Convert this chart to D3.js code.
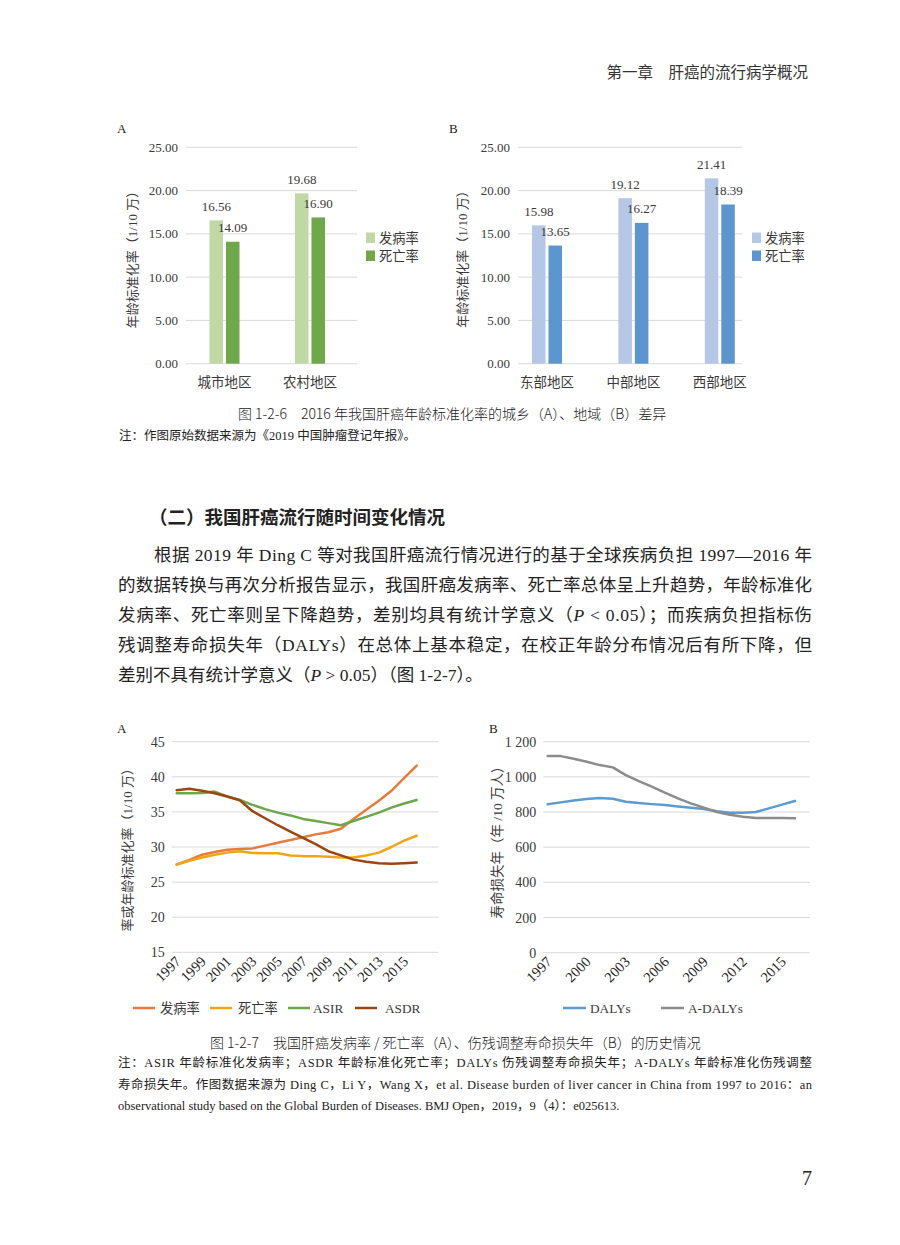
<!DOCTYPE html>
<html><head><meta charset="utf-8">
<script src="https://cdn.jsdelivr.net/npm/d3@7"></script>
<style>
html,body{margin:0;padding:0;background:#fff;}
svg{display:block;}
</style></head><body>
<svg id="page" width="900" height="1245"></svg>
<script>
// ---------- DATA ----------
const barSeries = ["发病率", "死亡率"];
const barCatsA = ["城市地区", "农村地区"];
const barIncidA = [16.56, 19.68];
const barMortA = [14.09, 16.90];
const barCatsB = ["东部地区", "中部地区", "西部地区"];
const barIncidB = [15.98, 19.12, 21.41];
const barMortB = [13.65, 16.27, 18.39];
const barYTicks = [0, 5, 10, 15, 20, 25];

const years = [1997,1998,1999,2000,2001,2002,2003,2004,2005,2006,2007,2008,2009,2010,2011,2012,2013,2014,2015,2016];
const incidence = [27.5,28.15,28.9,29.3,29.6,29.7,29.8,30.2,30.6,31.0,31.4,31.8,32.1,32.6,34.0,35.3,36.6,38.0,39.8,41.6];
const mortality = [27.5,28.05,28.5,28.9,29.2,29.4,29.15,29.1,29.1,28.8,28.7,28.7,28.6,28.5,28.5,28.8,29.2,30.0,30.9,31.6];
const asir = [37.65,37.65,37.7,37.9,37.2,36.7,36.0,35.4,34.9,34.5,34.0,33.7,33.4,33.1,33.7,34.3,34.9,35.6,36.2,36.7];
const asdr = [38.1,38.3,38.0,37.65,37.2,36.65,35.1,34.1,33.1,32.2,31.3,30.4,29.4,28.8,28.2,27.9,27.7,27.6,27.7,27.8];
const lineSeriesA = ["发病率", "死亡率", "ASIR", "ASDR"];
const lineYTicksA = [15, 20, 25, 30, 35, 40, 45];
const xTickYearsA = [1997,1999,2001,2003,2005,2007,2009,2011,2013,2015];

const dalys = [844,855,866,874,880,876,859,851,845,840,832,825,817,804,796,796,800,821,842,863];
const adalys = [1118,1118,1103,1086,1067,1054,1010,976,944,910,878,849,825,800,785,773,766,766,766,764];
const lineSeriesB = ["DALYs", "A-DALYs"];
const lineYTicksB = [0, 200, 400, 600, 800, 1000, 1200];
const lineYTickLabelsB = ["0", "200", "400", "600", "800", "1 000", "1 200"];
const xTickYearsB = [1997,2000,2003,2006,2009,2012,2015];

// ---------- STYLE ----------
const SERIF = "'Liberation Serif','Noto Sans CJK SC',serif";
const SANS = "'Noto Sans CJK SC','Noto Sans',sans-serif";
const GRID = "#d9d9d9";
const AXTXT = "#3a3a3a";

const svg = d3.select("#page");

// ---------- HEADER ----------
svg.append("text").attr("x", 808).attr("y", 78).attr("text-anchor", "end")
  .attr("font-family", SANS).attr("font-size", 15.5).attr("fill", "#333")
  .text("第一章\u3000肝癌的流行病学概况");

// ---------- BAR CHARTS ----------
function barChart(cfg) {
  const g = svg.append("g");
  const y = d3.scaleLinear().domain([0, 25]).range([363.7, 147.3]);
  const x = d3.scalePoint().domain(cfg.cats).range(cfg.centers);
  const sub = d3.scaleBand().domain(barSeries).range([-15, 15]).paddingInner(0.18);
  g.selectAll("line.grid").data(barYTicks).join("line")
    .attr("x1", cfg.gx0).attr("x2", cfg.gx1)
    .attr("y1", d => y(d)).attr("y2", d => y(d))
    .attr("stroke", GRID).attr("stroke-width", 1);
  g.selectAll("text.yt").data(barYTicks).join("text")
    .attr("x", cfg.gx0 - 8).attr("y", d => y(d) + 4.5).attr("text-anchor", "end")
    .attr("font-family", SERIF).attr("font-size", 13).attr("fill", AXTXT)
    .text(d => d3.format(".2f")(d));
  const series = [cfg.incid, cfg.mort];
  series.forEach((vals, si) => {
    g.selectAll("rect.s" + si).data(vals).join("rect")
      .attr("x", (d, i) => x(cfg.cats[i]) + sub(barSeries[si]))
      .attr("width", sub.bandwidth())
      .attr("y", d => y(d)).attr("height", d => y(0) - y(d))
      .attr("fill", cfg.colors[si]);
    g.selectAll("text.v" + si).data(vals).join("text")
      .attr("x", (d, i) => x(cfg.cats[i]) + sub(barSeries[si]) + sub.bandwidth() / 2)
      .attr("y", d => y(d) - 9.5).attr("text-anchor", "middle")
      .attr("font-family", SERIF).attr("font-size", 13).attr("fill", AXTXT)
      .text(d => d3.format(".2f")(d));
  });
  g.selectAll("text.cat").data(cfg.cats).join("text")
    .attr("x", d => x(d)).attr("y", 386.5).attr("text-anchor", "middle")
    .attr("font-family", SANS).attr("font-size", 13.5).attr("fill", AXTXT)
    .text(d => d);
  g.append("text").attr("transform", `translate(${cfg.titleX},${cfg.titleY}) rotate(-90)`)
    .attr("text-anchor", "middle").attr("font-family", SERIF).attr("font-size", 13).attr("fill", AXTXT)
    .text("年龄标准化率（1/10 万）");
  g.append("text").attr("x", cfg.letterX).attr("y", 133).attr("font-family", SERIF)
    .attr("font-size", 13).attr("fill", "#222").text(cfg.letter);
  barSeries.forEach((s, i) => {
    g.append("rect").attr("x", cfg.legX).attr("y", 232.5 + i * 18).attr("width", 9).attr("height", 10.5)
      .attr("fill", cfg.colors[i]);
    g.append("text").attr("x", cfg.legX + 13).attr("y", 242.5 + i * 18)
      .attr("font-family", SANS).attr("font-size", 13.3).attr("fill", AXTXT).text(s);
  });
}
barChart({cats: barCatsA, incid: barIncidA, mort: barMortA, centers: [224.5, 310],
  gx0: 186, gx1: 357, colors: ["#c0d8a4", "#6ea84b"], titleX: 136.5, titleY: 256.5,
  letterX: 117, letter: "A", legX: 366});
barChart({cats: barCatsB, incid: barIncidB, mort: barMortB, centers: [547, 719.8],
  gx0: 518, gx1: 742, colors: ["#b4c7e7", "#5b96cf"], titleX: 467, titleY: 256,
  letterX: 449, letter: "B", legX: 752});

// ---------- CAPTION 1 ----------
svg.append("text").attr("x", 238).attr("y", 418.5)
  .attr("font-family", SANS).attr("font-size", 14).attr("font-weight", 300).attr("fill", "#222")
  .text("图 1-2-6\u30002016 年我国肝癌年龄标准化率的城乡（A）、地域（B）差异");
svg.append("text").attr("x", 119).attr("y", 440)
  .attr("font-family", SERIF).attr("font-size", 12.5).attr("fill", "#222")
  .text("注：作图原始数据来源为《2019 中国肿瘤登记年报》。");

// ---------- SECTION TEXT ----------
svg.append("text").attr("x", 149).attr("y", 524)
  .attr("font-family", SANS).attr("font-size", 18.5).attr("font-weight", 700).attr("fill", "#222")
  .text("（二）我国肝癌流行随时间变化情况");

const paraLines = [
  {x: 154, w: 658, parts: [["根据 2019 年 Ding C 等对我国肝癌流行情况进行的基于全球疾病负担 1997—2016 年"]]},
  {x: 118, w: 694, parts: [["的数据转换与再次分析报告显示，我国肝癌发病率、死亡率总体呈上升趋势，年龄标准化"]]},
  {x: 118, w: 694, parts: [["发病率、死亡率则呈下降趋势，差别均具有统计学意义（"], ["P", "i"], [" < 0.05）；而疾病负担指标伤"]]},
  {x: 118, w: 694, parts: [["残调整寿命损失年（DALYs）在总体上基本稳定，在校正年龄分布情况后有所下降，但"]]},
  {x: 118, w: null, parts: [["差别不具有统计学意义（"], ["P", "i"], [" > 0.05）（图 1-2-7）。"]]}
];
paraLines.forEach((ln, i) => {
  const t = svg.append("text").attr("x", ln.x).attr("y", 561 + i * 30)
    .attr("font-family", SERIF).attr("font-size", 17.5).attr("fill", "#222");
  if (ln.w) t.attr("textLength", ln.w).attr("lengthAdjust", "spacing");
  ln.parts.forEach(p => {
    const ts = t.append("tspan").text(p[0]);
    if (p[1] === "i") ts.attr("font-style", "italic");
  });
});

// ---------- LINE CHART A ----------
(function () {
  const g = svg.append("g");
  const x = d3.scaleLinear().domain([1997, 2016]).range([176.7, 416.7]);
  const y = d3.scaleLinear().domain([15, 45]).range([952.3, 741.7]);
  const gx0 = 171.7, gx1 = 438.3;
  g.selectAll("line.grid").data(lineYTicksA).join("line")
    .attr("x1", gx0).attr("x2", gx1).attr("y1", d => y(d)).attr("y2", d => y(d))
    .attr("stroke", GRID).attr("stroke-width", 1);
  g.selectAll("text.yt").data(lineYTicksA).join("text")
    .attr("x", gx0 - 7).attr("y", d => y(d) + 5).attr("text-anchor", "end")
    .attr("font-family", SERIF).attr("font-size", 14).attr("fill", AXTXT).text(d => d);
  g.selectAll("text.xt").data(xTickYearsA).join("text")
    .attr("transform", d => `translate(${x(d) + 5},${y(15) + 10}) rotate(-45)`)
    .attr("text-anchor", "end").attr("font-family", SERIF).attr("font-size", 14.5)
    .attr("fill", "#222").text(d => d);
  const colors = ["#e97b3a", "#f1a516", "#6aa84a", "#9b4512"];
  const data = [incidence, mortality, asir, asdr];
  const line = d3.line().x((d, i) => x(years[i])).y(d => y(d));
  data.forEach((vals, i) => {
    g.append("path").attr("d", line(vals)).attr("fill", "none").attr("stroke", colors[i])
      .attr("stroke-width", 2.5).attr("stroke-linejoin", "round").attr("stroke-linecap", "round");
  });
  g.append("text").attr("transform", `translate(131.5,846.7) rotate(-90)`)
    .attr("text-anchor", "middle").attr("font-family", SERIF).attr("font-size", 13).attr("fill", AXTXT)
    .text("率或年龄标准化率（1/10 万）");
  g.append("text").attr("x", 117).attr("y", 733).attr("font-family", SERIF)
    .attr("font-size", 13).attr("fill", "#222").text("A");
  const legX = [133, 210, 288, 355];
  const legTX = [160, 238, 313, 385];
  lineSeriesA.forEach((s, i) => {
    g.append("line").attr("x1", legX[i]).attr("x2", legX[i] + 22).attr("y1", 1008).attr("y2", 1008)
      .attr("stroke", colors[i]).attr("stroke-width", 2.5);
    g.append("text").attr("x", legTX[i]).attr("y", 1012.5)
      .attr("font-family", SERIF).attr("font-size", 13.3).attr("fill", AXTXT).text(s);
  });
})();

// ---------- LINE CHART B ----------
(function () {
  const g = svg.append("g");
  const x = d3.scaleLinear().domain([1997, 2016]).range([547.7, 795]);
  const y = d3.scaleLinear().domain([0, 1200]).range([952.7, 741.7]);
  const gx0 = 543.3, gx1 = 810;
  g.selectAll("line.grid").data(lineYTicksB).join("line")
    .attr("x1", gx0).attr("x2", gx1).attr("y1", d => y(d)).attr("y2", d => y(d))
    .attr("stroke", GRID).attr("stroke-width", 1);
  g.selectAll("text.yt").data(lineYTicksB).join("text")
    .attr("x", gx0 - 7).attr("y", d => y(d) + 5).attr("text-anchor", "end")
    .attr("font-family", SERIF).attr("font-size", 14).attr("fill", AXTXT)
    .text((d, i) => lineYTickLabelsB[i]);
  g.selectAll("text.xt").data(xTickYearsB).join("text")
    .attr("transform", d => `translate(${x(d) + 5},${y(0) + 10}) rotate(-45)`)
    .attr("text-anchor", "end").attr("font-family", SERIF).attr("font-size", 14.5)
    .attr("fill", "#222").text(d => d);
  const colors = ["#5b9bd5", "#8c8c8c"];
  const data = [dalys, adalys];
  const line = d3.line().x((d, i) => x(years[i])).y(d => y(d));
  data.forEach((vals, i) => {
    g.append("path").attr("d", line(vals)).attr("fill", "none").attr("stroke", colors[i])
      .attr("stroke-width", 2.5).attr("stroke-linejoin", "round").attr("stroke-linecap", "round");
  });
  g.append("text").attr("transform", `translate(502,839) rotate(-90)`)
    .attr("text-anchor", "middle").attr("font-family", SERIF).attr("font-size", 13.5).attr("fill", AXTXT)
    .text("寿命损失年（年 /10 万人）");
  g.append("text").attr("x", 489).attr("y", 733).attr("font-family", SERIF)
    .attr("font-size", 13).attr("fill", "#222").text("B");
  const legX = [563, 661];
  lineSeriesB.forEach((s, i) => {
    g.append("line").attr("x1", legX[i]).attr("x2", legX[i] + 23).attr("y1", 1008).attr("y2", 1008)
      .attr("stroke", colors[i]).attr("stroke-width", 2.5);
    g.append("text").attr("x", legX[i] + 27).attr("y", 1012.5)
      .attr("font-family", SERIF).attr("font-size", 13.3).attr("fill", AXTXT).text(s);
  });
})();

// ---------- CAPTION 2 ----------
svg.append("text").attr("x", 210).attr("y", 1047.5)
  .attr("font-family", SANS).attr("font-size", 14).attr("font-weight", 300).attr("fill", "#222")
  .text("图 1-2-7\u3000我国肝癌发病率 / 死亡率（A）、伤残调整寿命损失年（B）的历史情况");
const noteLines = [
  {w: 694, t: "注：ASIR 年龄标准化发病率；ASDR 年龄标准化死亡率；DALYs 伤残调整寿命损失年；A-DALYs 年龄标准化伤残调整"},
  {w: 694, t: "寿命损失年。作图数据来源为 Ding C，Li Y，Wang X，et al. Disease burden of liver cancer in China from 1997 to 2016：an"},
  {w: null, t: "observational study based on the Global Burden of Diseases. BMJ Open，2019，9（4）：e025613."}
];
noteLines.forEach((ln, i) => {
  const t = svg.append("text").attr("x", 118).attr("y", 1067 + i * 21.5)
    .attr("font-family", SERIF).attr("font-size", 12.5).attr("fill", "#222").text(ln.t);
  if (ln.w) t.attr("textLength", ln.w).attr("lengthAdjust", "spacing");
});

// ---------- PAGE NUMBER ----------
svg.append("text").attr("x", 812).attr("y", 1185).attr("text-anchor", "end")
  .attr("font-family", SERIF).attr("font-size", 20).attr("fill", "#222").text("7");
</script>
</body></html>
